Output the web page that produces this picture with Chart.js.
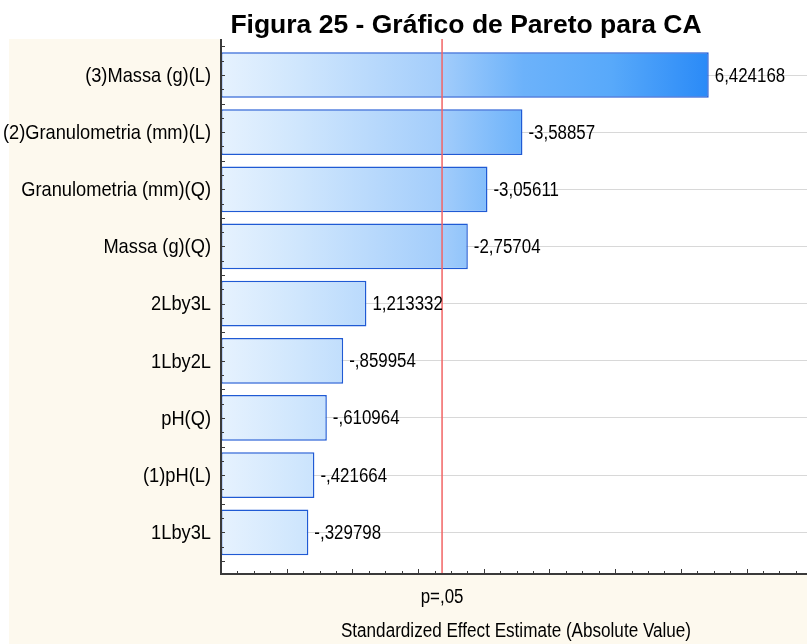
<!DOCTYPE html>
<html>
<head>
<meta charset="utf-8">
<script src="https://cdn.jsdelivr.net/npm/chart.js@4.4.1/dist/chart.umd.min.js"></script>
<style>
  html, body { margin: 0; padding: 0; background: #fff; }
</style>
</head>
<body>
<canvas id="pareto" width="807" height="644"></canvas>
<script>
// fatores e efeitos padronizados
const factors = ["(3)Massa (g)(L)", "(2)Granulometria (mm)(L)", "Granulometria (mm)(Q)", "Massa (g)(Q)", "2Lby3L", "1Lby2L", "pH(Q)", "(1)pH(L)", "1Lby3L"];
const effects = [6.424168, -3.58857, -3.05611, -2.75704, 1.213332, -0.859954, -0.610964, -0.421664, -0.329798];
const pCrit = 2.365; // t critico p=.05
const pLabel = "p=,05";
const xTitle = "Standardized Effect Estimate (Absolute Value)";
const xMin = -1;
const xMax = 7.92;

const cream = "#fdf9ee";
const labelFont = "20px 'Liberation Sans', Arial, sans-serif";
const factorFont = "21px 'Liberation Sans', Arial, sans-serif";

function fmt(v) {
  return String(v).replace(".", ",").replace(/^(-?)0,/, "$1,");
}

// texto estreito (como Arial Narrow)
function narrowText(ctx, text, x, y, align, sx) {
  ctx.save();
  ctx.translate(x, y);
  ctx.scale(sx, 1);
  ctx.textAlign = align;
  ctx.fillText(text, 0, 0);
  ctx.restore();
}

// fundo + titulo
const backPlugin = {
  id: "back",
  beforeDraw(chart) {
    const ctx = chart.ctx;
    const a = chart.chartArea;
    ctx.save();
    ctx.fillStyle = "#fff";
    ctx.fillRect(0, 0, chart.width, chart.height);
    ctx.fillStyle = cream;
    ctx.fillRect(9, a.top, chart.width - 9, chart.height - a.top);
    ctx.fillStyle = "#fff";
    ctx.fillRect(a.left, a.top, a.right - a.left, a.bottom - a.top);
    ctx.fillStyle = "#000";
    ctx.font = "bold 26.5px 'Liberation Sans', Arial, sans-serif";
    ctx.textAlign = "center";
    ctx.textBaseline = "alphabetic";
    ctx.fillText("Figura 25 - Gráfico de Pareto para CA", 466, 33);
    ctx.restore();
  },
};

// linha p, eixos, marcas e rotulos
const overPlugin = {
  id: "over",
  afterDatasetsDraw(chart) {
    const ctx = chart.ctx;
    const a = chart.chartArea;
    const xs = chart.scales.x;
    const ys = chart.scales.y;
    ctx.save();

    const px = xs.getPixelForValue(pCrit);
    ctx.strokeStyle = "#f26464";
    ctx.lineWidth = 1.5;
    ctx.beginPath();
    ctx.moveTo(px, a.top);
    ctx.lineTo(px, a.bottom);
    ctx.stroke();

    ctx.strokeStyle = "#3a3a3a";
    ctx.lineWidth = 2;
    ctx.beginPath();
    ctx.moveTo(a.left, a.top);
    ctx.lineTo(a.left, a.bottom);
    ctx.lineTo(a.right, a.bottom);
    ctx.stroke();

    ctx.lineWidth = 1;
    ctx.beginPath();
    for (let k = 1; xMin + k * 0.25 <= xMax; k++) {
      const x = Math.round(xs.getPixelForValue(xMin + k * 0.25)) + 0.5;
      const len = k % 4 === 0 ? 4 : 2;
      ctx.moveTo(x, a.bottom);
      ctx.lineTo(x, a.bottom - 1 - len);
    }
    for (let k = 0; -0.5 + k * 0.25 <= ys.max; k++) {
      const y = Math.round(ys.getPixelForValue(-0.5 + k * 0.25)) + 0.5;
      const len = k % 2 === 0 ? 3 : 2;
      ctx.moveTo(a.left, y);
      ctx.lineTo(a.left + 1 + len, y);
    }
    ctx.stroke();

    ctx.fillStyle = "#000";
    ctx.textBaseline = "middle";
    ctx.font = labelFont;
    chart.getDatasetMeta(0).data.forEach((bar, i) => {
      narrowText(ctx, fmt(effects[i]), bar.x + 6, bar.y + 1, "left", 0.845);
    });
    narrowText(ctx, pLabel, px, a.bottom + 23, "center", 0.845);
    narrowText(ctx, xTitle, (a.left + a.right) / 2 + 2, a.bottom + 57, "center", 0.855);
    ctx.font = factorFont;
    factors.forEach((f, i) => {
      narrowText(ctx, f, a.left - 10, ys.getPixelForValue(i) + 1, "right", 0.87);
    });
    ctx.restore();
  },
};

const maxAbs = Math.max(...effects.map((v) => Math.abs(v)));

function barFill(c) {
  const chart = c.chart;
  if (!chart.chartArea) return "#a8d2fc";
  const xs = chart.scales.x;
  const x0 = xs.getPixelForValue(xMin);
  const x1 = xs.getPixelForValue(maxAbs);
  const g = chart.ctx.createLinearGradient(x0, 0, x1, 0);
  g.addColorStop(0, "#e6f2fe");
  g.addColorStop(0.16, "#cfe6fd");
  g.addColorStop(0.45, "#a3cdfb");
  g.addColorStop(0.62, "#6cb2fa");
  g.addColorStop(0.8, "#58a9fa");
  g.addColorStop(1, "#2a8af7");
  return g;
}

new Chart(document.getElementById("pareto"), {
  type: "bar",
  data: {
    datasets: [
      {
        label: "Efeito",
        data: effects.map((v, i) => ({ x: Math.abs(v), y: i })),
        base: xMin,
        backgroundColor: barFill,
        borderColor: "#1f5ad4",
        borderWidth: 1.5,
        borderSkipped: false,
        categoryPercentage: 1,
        barPercentage: 0.8,
      },
    ],
  },
  options: {
    indexAxis: "y",
    responsive: false,
    devicePixelRatio: 1,
    animation: false,
    events: [],
    layout: { padding: { top: 39, left: 0, right: 0, bottom: 0 } },
    plugins: {
      legend: { display: false },
      tooltip: { enabled: false },
    },
    scales: {
      x: {
        type: "linear",
        min: xMin,
        max: xMax,
        afterFit: (s) => { s.height = 70; },
        ticks: { display: false },
        grid: { display: false, drawTicks: false },
        border: { display: false },
      },
      y: {
        type: "linear",
        reverse: true,
        offset: false,
        min: -0.63,
        max: 8.73,
        afterBuildTicks: (s) => { s.ticks = factors.map((f, i) => ({ value: i })); },
        afterFit: (s) => { s.width = 221; },
        ticks: { display: false },
        grid: { color: "#d8d8d8", lineWidth: 1, drawTicks: false, offset: false },
        border: { display: false },
      },
    },
  },
  plugins: [backPlugin, overPlugin],
});
</script>
</body>
</html>
